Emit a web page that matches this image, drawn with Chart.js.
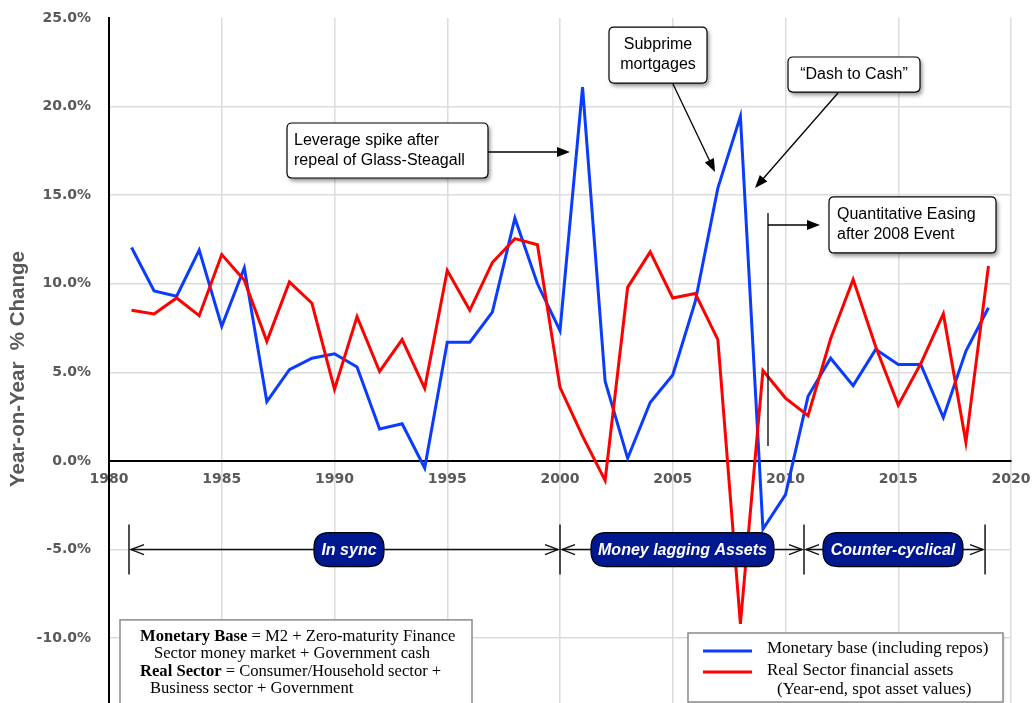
<!DOCTYPE html>
<html><head><meta charset="utf-8">
<script src="https://cdn.jsdelivr.net/npm/chart.js@4/dist/chart.umd.min.js"></script>
<style>html,body{margin:0;padding:0;background:#fff;}#wrap{width:1033px;height:703px;}</style>
</head><body><div id="wrap"><canvas id="c" width="1033" height="703"></canvas></div>
<script>
// ---- data ----
const years = [1981,1982,1983,1984,1985,1986,1987,1988,1989,1990,1991,1992,1993,1994,1995,1996,1997,1998,1999,2000,2001,2002,2003,2004,2005,2006,2007,2008,2009,2010,2011,2012,2013,2014,2015,2016,2017,2018,2019];
const monetaryBase = [12.05,9.6,9.3,11.9,7.6,10.9,3.35,5.15,5.8,6.05,5.3,1.8,2.1,-0.4,6.7,6.7,8.4,13.7,10.0,7.35,21.1,4.5,0.15,3.3,4.85,9.0,15.4,19.45,-3.85,-1.9,3.65,5.8,4.25,6.3,5.45,5.45,2.45,6.2,8.65];
const realSector = [8.5,8.3,9.2,8.2,11.65,10.2,6.75,10.1,8.9,4.05,8.15,5.05,6.85,4.1,10.75,8.5,11.2,12.55,12.2,4.15,1.4,-1.1,9.8,11.8,9.2,9.45,6.85,-9.2,5.1,3.55,2.55,6.9,10.25,6.45,3.15,5.5,8.3,1.05,11.0];
const xTickValues = [1980,1985,1990,1995,2000,2005,2010,2015,2020];
const yTickValues = [-10,-5,0,5,10,15,20,25];
const seriesNames = ['Monetary base (including repos)','Real Sector financial assets'];
const seriesNote = '(Year-end, spot asset values)';
const periodLabels = ['In sync','Money lagging Assets','Counter-cyclical'];
const periodBounds = [1980.887,2000.0,2010.82,2018.85];
const yTitle = 'Year-on-Year  % Change   ';

const GREY = '#595959';
const NAVY = '#00188f';

function rr(ctx,x,y,w,h,r){
  ctx.beginPath();
  ctx.moveTo(x+r,y);ctx.lineTo(x+w-r,y);ctx.quadraticCurveTo(x+w,y,x+w,y+r);
  ctx.lineTo(x+w,y+h-r);ctx.quadraticCurveTo(x+w,y+h,x+w-r,y+h);
  ctx.lineTo(x+r,y+h);ctx.quadraticCurveTo(x,y+h,x,y+h-r);
  ctx.lineTo(x,y+r);ctx.quadraticCurveTo(x,y,x+r,y);ctx.closePath();
}
function arrowHead(ctx,x0,y0,x1,y1,len,half){
  const a=Math.atan2(y1-y0,x1-x0);
  ctx.beginPath();
  ctx.moveTo(x1,y1);
  ctx.lineTo(x1-len*Math.cos(a)+half*Math.sin(a), y1-len*Math.sin(a)-half*Math.cos(a));
  ctx.lineTo(x1-len*Math.cos(a)-half*Math.sin(a), y1-len*Math.sin(a)+half*Math.cos(a));
  ctx.closePath();ctx.fill();
}
function arrow(ctx,x0,y0,x1,y1){
  const a=Math.atan2(y1-y0,x1-x0);
  ctx.beginPath();ctx.moveTo(x0,y0);ctx.lineTo(x1-10*Math.cos(a),y1-10*Math.sin(a));ctx.stroke();
  arrowHead(ctx,x0,y0,x1,y1,13,5);
}
function chevron(ctx,x,y,dir){
  ctx.beginPath();ctx.moveTo(x-dir*13,y-5);ctx.lineTo(x,y);ctx.lineTo(x-dir*13,y+5);ctx.stroke();
}

const callouts = [
  {x1:1987.894,x2:1996.807,y1:19.074,y2:15.971,lines:['Leverage spike after','repeal of Glass-Steagall'],align:'left',pad:7},
  {x1:2002.173,x2:2006.519,y1:24.49,y2:21.33,lines:['Subprime','mortgages'],align:'center'},
  {x1:2010.111,x2:2015.965,y1:22.80,y2:20.82,lines:['\u201cDash to Cash\u201d'],align:'center'},
  {x1:2011.929,x2:2019.335,y1:14.90,y2:11.74,lines:['Quantitative Easing','after 2008 Event'],align:'left',pad:8}
];
const pointers = [
  [1996.807,17.438,2000.443,17.438],
  [2005.011,21.275,2006.874,16.31],
  [2012.328,20.767,2008.647,15.406],
  [2009.224,13.318,2011.53,13.318]
];
const pills = [[1989.09,1992.195],[2001.375,2009.49],[2011.663,2017.871]];

const overlay = {
  id:'overlay',
  afterDatasetsDraw(chart){
    const ctx=chart.ctx, xs=chart.scales.x, ys=chart.scales.y;
    const X=v=>xs.getPixelForValue(v), Y=v=>ys.getPixelForValue(v);
    ctx.save();
    // period bands
    const by=Y(-5);
    ctx.strokeStyle='#222';ctx.lineWidth=1.6;
    periodBounds.forEach(b=>{ctx.beginPath();ctx.moveTo(X(b),by-25);ctx.lineTo(X(b),by+25);ctx.stroke();});
    ctx.lineWidth=1.4;ctx.strokeStyle='#111';
    for(let i=0;i<periodBounds.length-1;i++){
      const a=X(periodBounds[i])+2,b=X(periodBounds[i+1])-2;
      ctx.beginPath();ctx.moveTo(a,by);ctx.lineTo(b,by);ctx.stroke();
      chevron(ctx,a,by,-1);chevron(ctx,b,by,1);
    }
    pills.forEach((p,i)=>{
      const x1=X(p[0]),x2=X(p[1]);
      rr(ctx,x1,by-17,x2-x1,34,15);
      ctx.fillStyle=NAVY;ctx.fill();ctx.lineWidth=1.2;ctx.strokeStyle='#000';ctx.stroke();
      ctx.fillStyle='#fff';ctx.font='italic bold 16px "Liberation Sans"';
      ctx.textAlign='center';ctx.textBaseline='middle';
      ctx.fillText(periodLabels[i],(x1+x2)/2,by+1);
    });
    // QE vertical line
    ctx.strokeStyle='#000';ctx.lineWidth=1.3;
    ctx.beginPath();ctx.moveTo(X(2009.224),Y(13.995));ctx.lineTo(X(2009.224),Y(0.846));ctx.stroke();
    // pointers
    ctx.fillStyle='#000';
    pointers.forEach(p=>arrow(ctx,X(p[0]),Y(p[1]),X(p[2]),Y(p[3])));
    // callout boxes
    callouts.forEach(c=>{
      const x1=X(c.x1),x2=X(c.x2),y1=Y(c.y1),y2=Y(c.y2);
      ctx.save();
      ctx.shadowColor='rgba(0,0,0,0.45)';ctx.shadowBlur=4;ctx.shadowOffsetX=2;ctx.shadowOffsetY=3;
      rr(ctx,x1,y1,x2-x1,y2-y1,5);ctx.fillStyle='#fff';ctx.fill();
      ctx.restore();
      rr(ctx,x1,y1,x2-x1,y2-y1,5);ctx.lineWidth=1.2;ctx.strokeStyle='#000';ctx.stroke();
      ctx.fillStyle='#000';ctx.font='16px "Liberation Sans"';ctx.textBaseline='middle';
      const n=c.lines.length, cy=(y1+y2)/2;
      c.lines.forEach((t,k)=>{
        const ty=cy+(k-(n-1)/2)*20;
        if(c.align==='center'){ctx.textAlign='center';ctx.fillText(t,(x1+x2)/2,ty);}
        else{ctx.textAlign='left';ctx.fillText(t,x1+c.pad,ty);}
      });
    });
    // definitions box
    {
      const x1=X(1980.488),x2=X(1996.098),y1=Y(-8.97);
      ctx.fillStyle='#fff';ctx.fillRect(x1,y1,x2-x1,120);
      ctx.strokeStyle='#8a8a8a';ctx.lineWidth=1.5;ctx.strokeRect(x1,y1,x2-x1,120);
      ctx.fillStyle='#000';ctx.textAlign='left';ctx.textBaseline='middle';
      const rows=[[20,17,'Monetary Base',' = M2 + Zero-maturity Finance'],[34,34,'','Sector money market + Government cash'],[20,52,'Real Sector',' = Consumer/Household sector +'],[30,69,'','Business sector + Government']];
      rows.forEach(r=>{
        let x=x1+r[0];const y=y1+r[1];
        if(r[2]){ctx.font='bold 16.6px "Liberation Serif"';ctx.fillText(r[2],x,y);x+=ctx.measureText(r[2]).width;}
        ctx.font='16.6px "Liberation Serif"';ctx.fillText(r[3],x,y);
      });
    }
    // legend
    {
      const x1=X(2005.676),x2=X(2019.645),y1=Y(-9.71);
      ctx.save();ctx.shadowColor='rgba(0,0,0,0.25)';ctx.shadowBlur=3;ctx.shadowOffsetX=1;ctx.shadowOffsetY=1;
      ctx.fillStyle='#fff';ctx.fillRect(x1,y1,x2-x1,69);ctx.restore();
      ctx.strokeStyle='#8a8a8a';ctx.lineWidth=1.5;ctx.strokeRect(x1,y1,x2-x1,69);
      const ds=chart.data.datasets;
      ds.forEach((d,i)=>{
        const ly=y1+18+i*21;
        ctx.strokeStyle=d.borderColor;ctx.lineWidth=3;
        ctx.beginPath();ctx.moveTo(x1+15,ly);ctx.lineTo(x1+64,ly);ctx.stroke();
        ctx.fillStyle='#000';ctx.font='17px "Liberation Serif"';ctx.textAlign='left';ctx.textBaseline='middle';
        ctx.fillText(d.label,x1+79,y1+16+i*22);
      });
      ctx.fillText(seriesNote,x1+89,y1+57);
    }
    ctx.restore();
  }
};

const tickFont={family:'"DejaVu Sans"',size:14,weight:'bold'};
new Chart(document.getElementById('c'),{
  type:'line',
  data:{datasets:[
    {label:seriesNames[0],data:years.map((y,i)=>({x:y,y:monetaryBase[i]})),borderColor:'#0a3cff',borderWidth:3,pointRadius:0,tension:0,order:1},
    {label:seriesNames[1],data:years.map((y,i)=>({x:y,y:realSector[i]})),borderColor:'#ff0000',borderWidth:3,pointRadius:0,tension:0,order:0}
  ]},
  plugins:[overlay],
  options:{
    responsive:false,animation:false,devicePixelRatio:1,
    layout:{padding:{left:0,top:18,right:22,bottom:0}},
    plugins:{legend:{display:false},tooltip:{enabled:false}},
    scales:{
      x:{type:'linear',position:{y:0},min:xTickValues[0],max:xTickValues[xTickValues.length-1],
        afterBuildTicks:s=>{s.ticks=xTickValues.map(v=>({value:v}));},
        afterFit:s=>{s.paddingLeft=0;s.paddingRight=0;s.paddingTop=0;s.paddingBottom=0;},
        ticks:{callback:v=>String(v),font:tickFont,color:GREY,padding:10,maxRotation:0},
        grid:{color:'#dcdcdc',lineWidth:1.5,drawTicks:false},
        border:{color:'#000',width:2}},
      y:{type:'linear',min:-13.66,max:25,
        afterBuildTicks:s=>{s.ticks=yTickValues.map(v=>({value:v}));},
        afterFit:s=>{s.width=109;s.paddingTop=0;s.paddingBottom=0;},
        ticks:{callback:v=>v.toFixed(1)+'%',font:tickFont,color:GREY,padding:18},
        grid:{color:c=>(c.tick&&c.tick.value===25)?'rgba(0,0,0,0)':'#dcdcdc',lineWidth:1.5,drawTicks:false},
        border:{color:'#000',width:2},
        title:{display:true,text:yTitle,color:GREY,font:{family:'"Liberation Sans"',size:20.5,weight:'bold'},padding:{top:6,bottom:0}}}
    }
  }
});
</script></body></html>
